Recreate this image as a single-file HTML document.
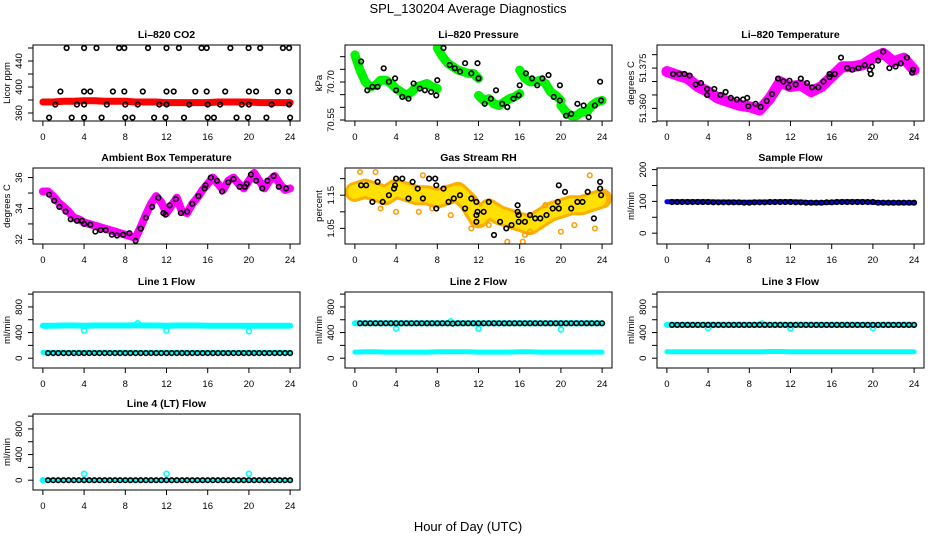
<!DOCTYPE html>
<html><head><meta charset="utf-8">
<style>
html,body{margin:0;padding:0;background:#fff;}
svg{display:block;font-family:"Liberation Sans",Arial,sans-serif;}
</style></head>
<body>
<svg id="chart" width="936" height="540" viewBox="0 0 936 540" xmlns="http://www.w3.org/2000/svg">
<text x="468" y="13" text-anchor="middle" font-size="13">SPL_130204  Average Diagnostics</text>
<text x="468" y="531" text-anchor="middle" font-size="13">Hour of Day (UTC)</text>
</svg>
<script>
// ---------- data ----------
const xTicks=[0,4,8,12,16,20,24];
// CO2
const co2RedT=[0,1,2,3,4,5,6,7,8,9,10,11,12,13,14,15,16,17,18,19,20,21,22,23,24];
const co2RedV=[377,377,378,378,379,379,378,378,378,377,377,377,376,376,376,376,376,377,377,377,377,376,376,376,376];
const co2BlkT=[2.3,4.0,5.2,7.4,7.9,10.2,12.0,13.2,15.4,15.9,18.2,19.97,21.1,23.3,23.9,
 1.7,4.0,4.6,6.8,7.9,9.7,12.0,12.7,14.8,15.9,17.7,20.0,20.7,22.8,23.9,
 1.2,3.3,4.0,6.2,8.0,9.2,11.3,12.0,14.2,16.0,17.2,19.3,20.0,22.2,23.9,
 0.6,2.8,4.0,5.7,8.0,8.7,10.8,11.9,13.7,16.0,16.6,18.8,19.9,21.7,24.0];
const co2BlkV=[460,460,460,460,460,460,460,460,460,460,460,460,460,460,460,
 393,393,393,393,393,393,393,393,393,393,393,393,393,393,393,
 373,373,373,373,373,373,373,373,373,373,373,373,373,373,373,
 353,353,353,353,353,353,353,353,353,353,353,353,353,353,353];
// Pressure
const presT=[0,.5,1,1.5,2,2.5,3,3.5,4,4.5,5,5.5,6,6.5,7,7.5,8, 8,8.5,9,9.5,10,10.5,11,11.5,12, 12,12.5,13,13.5,14,14.5,15,15.5,16, 16,16.5,17,17.5,18,18.5,19,19.5,20, 20,20.5,21,21.5,22,22.5,23,23.5,24];
const presV=[70.807,70.747,70.701,70.681,70.687,70.707,70.707,70.694,70.674,70.661,70.647,70.661,70.681,70.687,70.694,70.681,70.674,
 70.834,70.801,70.774,70.761,70.747,70.741,70.734,70.734,70.714,
 70.647,70.627,70.634,70.614,70.607,70.621,70.634,70.641,70.654,
 70.747,70.714,70.701,70.701,70.707,70.694,70.661,70.647,70.627,
 70.607,70.581,70.567,70.567,70.581,70.581,70.607,70.621,70.627];
const presBlkT=[0.6,1.2,1.7,2.2,2.8,3.3,3.9,4.0,4.6,5.2,5.7,6.3,6.8,7.4,7.9,8.0,8.6,9.2,9.7,10.2,10.7,11.3,11.9,12.0,12.6,13.2,13.7,14.3,14.8,15.4,15.9,16.0,16.6,17.2,17.7,18.2,18.8,19.3,19.9,19.9,20.5,21.0,21.6,22.2,22.7,23.3,23.8,23.9];
const presBlkV=[70.781,70.667,70.681,70.681,70.754,70.701,70.714,70.667,70.641,70.634,70.694,70.674,70.667,70.661,70.647,70.707,70.834,70.767,70.754,70.741,70.774,70.734,70.774,70.714,70.614,70.634,70.667,70.614,70.601,70.634,70.647,70.687,70.734,70.714,70.687,70.714,70.727,70.641,70.687,70.627,70.567,70.574,70.614,70.607,70.561,70.607,70.701,70.627];
// Li-820 temperature
const tempT=[0,1,2,3,4,5,6,7,8,9,10,11,12,13,14,15,16,17,18,19,20,21,22,23,24];
const tempV=[51.3737,51.3724,51.3712,51.3681,51.3662,51.3637,51.3625,51.3612,51.3606,51.3594,51.3637,51.3699,51.3681,51.3687,51.3662,51.3681,51.3718,51.3755,51.3755,51.3762,51.3787,51.3805,51.3774,51.3787,51.3743];
const tempBlkT=[0.6,1.2,1.7,2.2,2.8,3.3,3.9,3.9,4.6,5.2,5.7,6.2,6.8,7.4,7.8,7.9,8.6,9.1,9.7,10.2,10.8,11.3,11.8,11.9,12.5,13.0,13.6,14.1,14.7,15.2,15.8,15.8,16.3,16.9,17.5,18.0,18.6,19.2,19.7,19.8,19.9,20.5,21.0,21.6,22.2,22.7,23.3,23.8,23.9];
const tempBlkV=[51.3728,51.3728,51.3728,51.3722,51.3689,51.3694,51.3672,51.3650,51.3672,51.3650,51.3661,51.3639,51.3633,51.3633,51.3639,51.3608,51.3617,51.3605,51.3628,51.3653,51.3711,51.3700,51.3678,51.3703,51.3689,51.3711,51.3694,51.3678,51.3678,51.3700,51.3717,51.3728,51.3728,51.3789,51.3750,51.3744,51.3750,51.3761,51.3744,51.3728,51.3756,51.3778,51.3811,51.3750,51.3756,51.3767,51.3789,51.3733,51.3744];
// Ambient box temperature
const ambT=[0,0.5,1,1.5,2,2.5,3,3.5,4,5,6,7,8,9,9.5,10,10.5,11,11.5,12,12.5,13,13.5,14,14.5,15,15.5,16,16.5,17,17.5,18,18.5,19,19.5,20,20.5,21,21.5,22,22.5,23,23.5,24];
const ambV=[35.1,35.1,34.8,34.4,34.1,33.8,33.4,33.3,33.1,32.9,32.7,32.5,32.3,32.1,32.8,33.6,34.3,34.8,34.4,33.7,34.2,34.7,33.8,33.7,34.3,34.7,35.2,35.6,36.0,35.6,35.2,35.8,36.0,35.6,35.3,35.8,36.3,35.8,35.3,35.8,36.1,35.6,35.2,35.3];
const ambBlkT=[0.6,1.1,1.6,2.2,2.7,3.3,3.8,4.0,4.6,5.1,5.6,6.1,6.7,7.2,7.8,8.4,9.0,9.5,10.0,10.6,11.2,11.7,11.9,12.3,12.9,13.4,14.0,14.5,15.1,15.7,15.8,16.3,16.9,17.4,18.0,18.5,19.1,19.6,19.8,20.2,20.7,21.3,21.8,22.4,22.9,23.6];
const ambBlkV=[34.9,34.5,34.1,33.8,33.3,33.2,33.2,33.0,32.95,32.5,32.6,32.6,32.3,32.25,32.3,32.4,31.9,32.7,33.4,34.1,34.7,33.7,33.6,34.2,34.6,33.7,33.8,34.3,34.8,35.3,35.5,36.0,35.8,35.1,35.7,35.9,35.4,35.4,35.6,36.2,35.8,35.3,35.8,36.1,35.4,35.3];
// Gas stream RH
const rhT=[0,1,2,3,4,5,6,7,8,9,10,11,12,13,14,15,16,17,18,19,20,21,22,23,24];
const rhV=[1.16,1.17,1.16,1.15,1.17,1.16,1.15,1.15,1.14,1.15,1.16,1.13,1.08,1.11,1.09,1.08,1.07,1.06,1.08,1.10,1.11,1.12,1.12,1.13,1.14];
const rhOutT=[0.5,2,2.5,4,6.2,6.6,7.5,9.3,11.3,13,14.8,16.3,16.5,17,18.5,20,21.3,22.8,23.3];
const rhOutV=[1.22,1.22,1.11,1.10,1.10,1.21,1.11,1.09,1.05,1.06,1.01,1.01,1.03,1.04,1.12,1.04,1.06,1.21,1.05];
const rhBlkT=[0.6,1.1,1.7,2.2,2.7,3.3,3.8,3.9,4.0,4.6,5.2,5.6,6.1,6.6,7.2,7.8,7.9,7.9,8.6,9.1,9.6,10.2,10.7,11.3,11.8,11.8,11.8,11.9,12.5,13.0,13.5,14.1,14.7,15.2,15.8,15.8,15.9,15.9,16.5,17.0,17.5,18.0,18.6,19.2,19.7,19.8,19.8,20.4,21.0,21.6,22.1,22.6,23.2,23.8,23.8,23.9];
const rhBlkV=[1.18,1.18,1.13,1.19,1.13,1.15,1.17,1.18,1.20,1.20,1.14,1.19,1.17,1.14,1.20,1.20,1.18,1.11,1.17,1.13,1.14,1.15,1.11,1.14,1.13,1.09,1.07,1.10,1.10,1.13,1.03,1.07,1.05,1.06,1.12,1.10,1.09,1.07,1.07,1.09,1.08,1.08,1.09,1.11,1.13,1.11,1.18,1.16,1.11,1.13,1.13,1.16,1.08,1.19,1.17,1.15];
// flows
const hourT=[0,1,2,3,4,5,6,7,8,9,10,11,12,13,14,15,16,17,18,19,20,21,22,23,24];
const halfT=[0.5,1,1.5,2,2.5,3,3.5,4,4.5,5,5.5,6,6.5,7,7.5,8,8.5,9,9.5,10,10.5,11,11.5,12,12.5,13,13.5,14,14.5,15,15.5,16,16.5,17,17.5,18,18.5,19,19.5,20,20.5,21,21.5,22,22.5,23,23.5,24];
const sampleBlue=[99,99,99,99,99,98,98,97,97,98,98,99,99,98,96,96,97,99,99,99,97,96,96,96,96];
const sampleBlk=[98,98,98,98,98,98,98,98,97,97,97,97,97,97,96,96,97,97,97,98,98,98,98,98,97,97,96,96,96,96,97,97,98,98,98,98,98,98,98,98,96,96,96,96,96,96,96,96];
const line1Hi=[505,505,510,510,505,510,510,510,510,515,510,510,505,510,510,510,505,505,505,505,505,505,505,505,505];
const line1Lo=[90,90,90,90,90,90,90,90,90,90,90,90,90,90,90,90,90,90,90,90,90,90,90,90,90];
const line1Blk=[80,80,80,80,80,80,80,80,80,80,80,80,80,80,80,80,80,80,80,80,80,80,80,80,80,80,80,80,80,80,80,80,80,80,80,80,80,80,80,80,80,80,80,80,80,80,80,80];
const line1OutT=[4,12,20,9.2];
const line1OutV=[430,430,420,545];
const line2Hi=[545,545,545,545,545,545,545,545,545,545,545,545,545,545,545,545,545,545,545,545,545,545,545,545,545];
const line2Lo=[95,100,100,95,95,95,95,95,100,100,100,100,95,95,95,95,100,100,95,95,95,95,95,95,95];
const line2Blk=[545,545,545,545,545,545,545,545,545,545,545,545,545,545,545,545,545,545,540,545,545,545,545,545,545,545,545,545,545,545,545,545,545,545,545,545,545,545,545,545,545,545,545,545,545,545,545,545];
const line2OutT=[4,12,20,9.3];
const line2OutV=[460,460,450,575];
const line3Hi=[520,520,520,520,520,520,520,520,520,520,520,520,520,520,520,520,520,520,520,520,520,520,520,520,520];
const line3Lo=[100,100,100,100,100,100,100,100,100,100,105,105,100,100,100,100,100,100,100,100,100,100,100,100,100];
const line3Blk=[520,520,520,520,520,520,520,520,520,520,520,520,520,520,520,520,520,520,520,520,520,520,520,520,520,520,520,520,520,520,520,520,520,520,520,520,520,520,520,520,520,520,520,520,520,520,520,520];
const line3OutT=[4,12,20,9.2];
const line3OutV=[470,460,470,540];
const line4Cyan=[0,0,0,0,0,0,0,0,0,0,0,0,0,0,0,0,0,0,0,0,0,0,0,0,0];
const line4Blk=[0,0,0,0,0,0,0,0,0,0,0,0,0,0,0,0,0,0,0,0,0,0,0,0,0,0,0,0,0,0,0,0,0,0,0,0,0,0,0,0,0,0,0,0,0,0,0,0];
const line4OutT=[0,4,12,20];
const line4OutV=[0,100,100,100];

// ---------- drawing ----------
const NS='http://www.w3.org/2000/svg';
const svg=document.getElementById('chart');
const colLeft=[33,345,657], rowTop=[45,168,292,414], PW=267, PH=76;
function mk(tag,attrs,parent){const e=document.createElementNS(NS,tag);for(const k in attrs)e.setAttribute(k,attrs[k]);(parent||svg).appendChild(e);return e;}

function panel(idx,name,title,ylab,ymin,ymax,yticks,ylabels){
  const L=colLeft[idx%3], T=rowTop[Math.floor(idx/3)];
  const g=mk('g',{});
  
  
  const x=t=>L+(t+0.96)/25.92*PW;
  const y=v=>T+(ymax-v)/(ymax-ymin)*PH;
  const clipId='clip'+idx;
  const cp=mk('clipPath',{id:clipId},g);mk('rect',{x:L,y:T,width:PW,height:PH},cp);
  const plot=mk('g',{'clip-path':'url(#'+clipId+')'},g);
  
  
  const t=mk('text',{x:L+PW/2,y:T-7,'text-anchor':'middle','font-size':'10.5','font-weight':'bold'},g);
  t.textContent=title;
  
  
  const ylx=L-23;
  const yl=mk('text',{x:ylx,y:T+PH/2,'text-anchor':'middle','font-size':'9.5',transform:'rotate(-90 '+ylx+' '+(T+PH/2)+')'},g);
  yl.textContent=ylab;
  
  
  const xa=mk('g',{},g);
  
  
  xTicks.forEach(v=>{
    mk('line',{x1:x(v),x2:x(v),y1:T+PH,y2:T+PH+5,stroke:'#000','stroke-width':1},xa);
    const l=mk('text',{x:x(v),y:T+PH+19,'text-anchor':'middle','font-size':'9.5'},xa);l.textContent=v;
  });
  const ya=mk('g',{},g);
  
  
  yticks.forEach((v,i)=>{
    mk('line',{x1:L-5,x2:L,y1:y(v),y2:y(v),stroke:'#000','stroke-width':1},ya);
    if(ylabels[i]){const lx=L-11,ly=y(v);
      const l=mk('text',{x:lx,y:ly,'text-anchor':'middle','font-size':'9.5',transform:'rotate(-90 '+lx+' '+ly+')'},ya);l.textContent=ylabels[i];}
  });
  mk('rect',{x:L,y:T,width:PW,height:PH,fill:'none',stroke:'#000','stroke-width':1},g);
  return {x,y,plot};
}
function band(p,ts,vs,color,w,name,dash){
  let d='';for(let i=0;i<ts.length;i++){const brk=i===0||ts[i]===ts[i-1];d+=(brk?'M':'L')+p.x(ts[i]).toFixed(1)+','+p.y(vs[i]).toFixed(1);}
  const a={d,fill:'none',stroke:color,'stroke-width':w,'stroke-linejoin':'round','stroke-linecap':'round'};
  if(dash)a['stroke-dasharray']=dash;
  const e=mk('path',a,p.plot);
  
  
}
function pts(p,ts,vs,color,r,sw,name){
  const g=mk('g',{},p.plot);
  
  
  for(let i=0;i<ts.length;i++)mk('circle',{cx:p.x(ts[i]).toFixed(1),cy:p.y(vs[i]).toFixed(1),r:r,fill:'none',stroke:color,'stroke-width':sw},g);
}

let p;
p=panel(0,'co2','Li\u2013820 CO2','Licor ppm',347.7,464.6,[360,380,400,420,440,460],['360','','400','','440','']);
band(p,co2RedT,co2RedV,'#ff0000',7,'co2-red-series');
pts(p,co2BlkT,co2BlkV,'#000',2.3,1.6,'co2-black-points');

p=panel(1,'pressure','Li\u2013820 Pressure','kPa',70.546,70.846,[70.55,70.60,70.65,70.70,70.75,70.80],['70.55','','','70.70','','']);
band(p,presT,presV,'#00ee00',9,'pressure-green-series');
pts(p,presT,presV,'#00ff00',2.5,1.5,'pressure-green-points');
pts(p,presBlkT,presBlkV,'#000',2.3,1.6,'pressure-black-points');

p=panel(2,'li820-temp','Li\u2013820 Temperature','degrees C',51.3553,51.3836,[51.355,51.360,51.365,51.370,51.375,51.380],['','51.360','','','51.375','']);
band(p,tempT,tempV,'#ff00ff',11,'li820-temp-magenta-series');
pts(p,tempBlkT,tempBlkV,'#000',2.3,1.6,'li820-temp-black-points');

p=panel(3,'ambient','Ambient Box Temperature','degrees C',31.70,36.62,[32,33,34,35,36],['32','','34','','36']);
band(p,ambT,ambV,'#ff00ff',8,'ambient-magenta-series');
pts(p,ambBlkT,ambBlkV,'#000',2.3,1.6,'ambient-black-points');

p=panel(4,'rh','Gas Stream RH','percent',1.003,1.232,[1.05,1.10,1.15,1.20],['1.05','','1.15','']);
band(p,rhT,rhV,'#fbb000',20,'rh-orange-band');
band(p,rhT,rhV,'#ffe000',14,'rh-yellow-band','2 3');
pts(p,rhOutT,rhOutV,'#ff9a00',2.3,1.5,'rh-orange-points');
pts(p,rhBlkT,rhBlkV,'#000',2.3,1.6,'rh-black-points');

p=panel(5,'sample-flow','Sample Flow','ml/min',-34,205,[0,50,100,150,200],['0','','100','','200']);
band(p,hourT,sampleBlue,'#0000ff',5,'sample-flow-blue-series');
pts(p,halfT,sampleBlk,'#000',2.3,1.6,'sample-flow-black-points');

const flowTicks=[0,200,400,600,800,1000], flowLabels=['0','','400','','800',''];
p=panel(6,'line1-flow','Line 1 Flow','ml/min',-153,1033,flowTicks,flowLabels);
band(p,hourT,line1Hi,'#00ffff',6,'line1-cyan-high');
band(p,hourT,line1Lo,'#00ffff',5,'line1-cyan-low');
pts(p,line1OutT,line1OutV,'#00ffff',2.5,1.6,'line1-cyan-outliers');
pts(p,halfT,line1Blk,'#000',2.3,1.6,'line1-black-points');

p=panel(7,'line2-flow','Line 2 Flow','ml/min',-153,1033,flowTicks,flowLabels);
band(p,hourT,line2Hi,'#00ffff',6,'line2-cyan-high');
band(p,hourT,line2Lo,'#00ffff',5,'line2-cyan-low');
pts(p,line2OutT,line2OutV,'#00ffff',2.5,1.6,'line2-cyan-outliers');
pts(p,halfT,line2Blk,'#000',2.3,1.6,'line2-black-points');

p=panel(8,'line3-flow','Line 3 Flow','ml/min',-153,1033,flowTicks,flowLabels);
band(p,hourT,line3Hi,'#00ffff',6,'line3-cyan-high');
band(p,hourT,line3Lo,'#00ffff',5,'line3-cyan-low');
pts(p,line3OutT,line3OutV,'#00ffff',2.5,1.6,'line3-cyan-outliers');
pts(p,halfT,line3Blk,'#000',2.3,1.6,'line3-black-points');

p=panel(9,'line4-flow','Line 4 (LT) Flow','ml/min',-153,1033,flowTicks,flowLabels);
band(p,hourT,line4Cyan,'#00ffff',4,'line4-cyan-series');
pts(p,line4OutT,line4OutV,'#00ffff',2.5,1.6,'line4-cyan-outliers');
pts(p,halfT,line4Blk,'#000',2.3,1.6,'line4-black-points');
</script>
</body></html>
